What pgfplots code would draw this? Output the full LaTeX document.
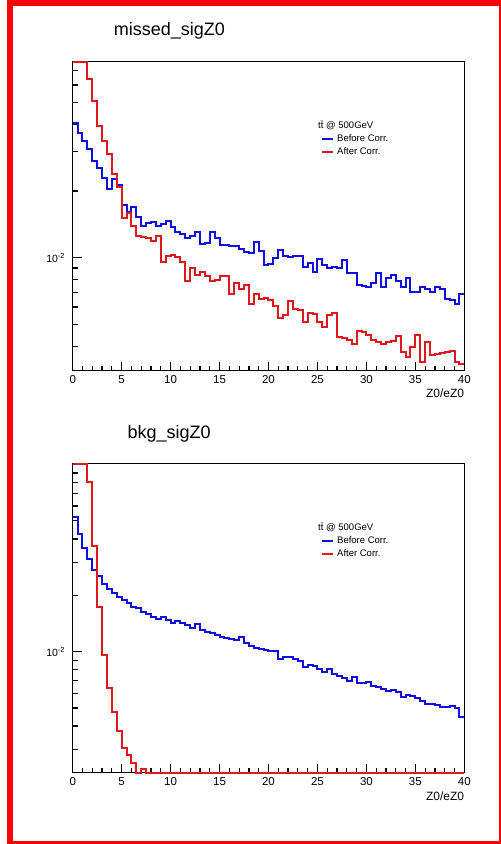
\documentclass[border=0pt]{standalone}
\usepackage{fontspec}
\setmainfont{Liberation Sans}
\usepackage{pgfplots}
\usepackage{pgfplotstable}
\pgfplotsset{compat=1.18}

\definecolor{rootblue}{RGB}{15,15,225}
\definecolor{rootred}{RGB}{222,25,30}

% top panel: missed_sigZ0 (bin left edge, content)
\pgfplotstableread{
x before after
0.0 0.0405 0.0764
0.5 0.0365 0.0764
1.0 0.0337 0.0764
1.5 0.0310 0.0638
2.0 0.0274 0.0506
2.5 0.0254 0.0393
3.0 0.0229 0.0335
3.5 0.0204 0.0294
4.0 0.0227 0.0239
4.5 0.0213 0.0209
5.0 0.0173 0.01514
5.5 0.0160 0.01595
6.0 0.0170 0.01394
6.5 0.0153 0.01256
7.0 0.0139 0.01237
7.5 0.0144 0.01224
8.0 0.0145 0.01193
8.5 0.0139 0.01247
9.0 0.0142 0.00956
9.5 0.0146 0.01021
10.0 0.0137 0.01026
10.5 0.0130 0.01010
11.0 0.0128 0.00954
11.5 0.0123 0.00782
12.0 0.0125 0.00899
12.5 0.0130 0.00838
13.0 0.0115 0.00865
13.5 0.0116 0.00824
14.0 0.0131 0.00785
14.5 0.0123 0.00796
15.0 0.0114 0.00830
15.5 0.0114 0.00826
16.0 0.0113 0.00689
16.5 0.0113 0.00772
17.0 0.0110 0.00721
17.5 0.0106 0.00756
18.0 0.0105 0.00621
18.5 0.0118 0.00690
19.0 0.0107 0.00654
19.5 0.00927 0.00661
20.0 0.00936 0.00645
20.5 0.00993 0.00606
21.0 0.01083 0.00533
21.5 0.01021 0.00552
22.0 0.01010 0.00638
22.5 0.01014 0.00585
23.0 0.01017 0.00581
23.5 0.00911 0.00515
24.0 0.00943 0.00562
24.5 0.00865 0.00557
25.0 0.00983 0.00515
25.5 0.00927 0.00486
26.0 0.00895 0.00552
26.5 0.00911 0.00562
27.0 0.00895 0.00441
27.5 0.00976 0.00433
28.0 0.00856 0.00426
28.5 0.00850 0.00411
29.0 0.00753 0.00469
29.5 0.00746 0.00464
30.0 0.00735 0.00449
30.5 0.00772 0.00426
31.0 0.00850 0.00418
31.5 0.00735 0.00411
32.0 0.00807 0.00418
32.5 0.00835 0.00423
33.0 0.00788 0.00444
33.5 0.00740 0.00377
34.0 0.00807 0.00358
34.5 0.00703 0.00397
35.0 0.00703 0.00449
35.5 0.00735 0.00340
36.0 0.00720 0.00418
36.5 0.00698 0.00365
37.0 0.00740 0.00368
37.5 0.00727 0.00373
38.0 0.00649 0.00377
38.5 0.00645 0.00381
39.0 0.00618 0.00340
39.5 0.00684 0.00334
40.0 0.00684 0.00334
}\missed

% bottom panel: bkg_sigZ0
\pgfplotstableread{
x before after
0.0 0.0526 0.101
0.5 0.0425 0.101
1.0 0.0356 0.101
1.5 0.0312 0.0806
2.0 0.0273 0.0369
2.5 0.0253 0.0174
3.0 0.0230 0.00958
3.5 0.0215 0.00636
4.0 0.0205 0.00475
4.5 0.0196 0.003745
5.0 0.01886 0.00305
5.5 0.01824 0.002795
6.0 0.01736 0.00255
6.5 0.01702 0.002254
7.0 0.01632 0.00236
7.5 0.01587 0.002254
8.0 0.01535 0.002254
8.5 0.01487 0.002254
9.0 0.01524 0.002254
9.5 0.01474 0.002254
10.0 0.01415 0.002254
10.5 0.01461 0.002254
11.0 0.01426 0.002254
11.5 0.01386 0.002254
12.0 0.01331 0.002254
12.5 0.01403 0.002254
13.0 0.01303 0.002254
13.5 0.01276 0.002254
14.0 0.01251 0.002254
14.5 0.01225 0.002254
15.0 0.01200 0.002254
15.5 0.01177 0.002254
16.0 0.01174 0.002254
16.5 0.01152 0.002254
17.0 0.01191 0.002254
17.5 0.01115 0.002254
18.0 0.01070 0.002254
18.5 0.01040 0.002254
19.0 0.01031 0.002254
19.5 0.01019 0.002254
20.0 0.01010 0.002254
20.5 0.01010 0.002254
21.0 0.00909 0.002254
21.5 0.00938 0.002254
22.0 0.00931 0.002254
22.5 0.00909 0.002254
23.0 0.00893 0.002254
23.5 0.00823 0.002254
24.0 0.00847 0.002254
24.5 0.00837 0.002254
25.0 0.00803 0.002254
25.5 0.00780 0.002254
26.0 0.00803 0.002254
26.5 0.00764 0.002254
27.0 0.00740 0.002254
27.5 0.00719 0.002254
28.0 0.00698 0.002254
28.5 0.00733 0.002254
29.0 0.00681 0.002254
29.5 0.00676 0.002254
30.0 0.00690 0.002254
30.5 0.00654 0.002254
31.0 0.00644 0.002254
31.5 0.00628 0.002254
32.0 0.00615 0.002254
32.5 0.00622 0.002254
33.0 0.00610 0.002254
33.5 0.00569 0.002254
34.0 0.00585 0.002254
34.5 0.00578 0.002254
35.0 0.00562 0.002254
35.5 0.00546 0.002254
36.0 0.00528 0.002254
36.5 0.00522 0.002254
37.0 0.00518 0.002254
37.5 0.00507 0.002254
38.0 0.00503 0.002254
38.5 0.00511 0.002254
39.0 0.00497 0.002254
39.5 0.00448 0.002254
40.0 0.00448 0.002254
}\bkg

\pgfplotsset{
  legend image code/.code={\draw[#1, line width=2pt] (0pt,0pt) -- (11pt,0pt);},
  /pgf/number format/assume math mode=true,
}

\begin{document}
\begin{tikzpicture}
\useasboundingbox (0pt,0pt) rectangle (501pt,844pt);
\clip (0pt,0pt) rectangle (501pt,844pt);

% ---- top panel
\begin{axis}[
  scale only axis,
  width=391.6pt, height=309pt,
  ymode=log,
  xmin=0, xmax=40,
  ymin=0.0031, ymax=0.0764,
  clip=false,
  axis line style={line width=1.5pt},
  xtick={0,5,...,40},
  minor x tick num=4,
  ytick={0.01}, yticklabels={10\textsuperscript{-2}},
  minor ytick={0.004,0.005,0.006,0.007,0.008,0.009,0.02,0.03,0.04,0.05,0.06,0.07},
  xtick pos=left, ytick pos=left,
  tick align=inside,
  major tick length=9pt, minor tick length=5pt,
  tick style={black, line width=1.2pt},
  xticklabel style={font=\fontsize{11.5}{12}\selectfont, inner sep=0pt, anchor=north, yshift=-5pt},
  yticklabel style={font=\fontsize{10.5}{11}\selectfont, inner sep=0pt, anchor=east, xshift=-7.5pt},
  xlabel={Z0/eZ0},
  xlabel style={at={(rel axis cs:1,0)}, anchor=north east, inner sep=0pt, yshift=-17.8pt, font=\fontsize{12}{13}\selectfont},
  title={missed\_sigZ0},
  title style={at={(rel axis cs:0.247,1.065)}, anchor=base, inner sep=0pt, font=\fontsize{18}{20}\selectfont},
  legend style={at={(rel axis cs:0.634,0.767)}, anchor=north west, draw=none, fill=none,
    inner sep=0pt, font=\fontsize{9.5}{10}\selectfont, row sep=4pt, column sep=3pt,
    nodes={inner sep=0pt, text height=7.2pt, text depth=2.2pt}},
  legend cell align=left,
  at={(72.7pt,473.3pt)}, anchor=south west]
\addplot[const plot, rootblue, line width=2pt] table[x=x, y=before] {\missed};
\addlegendentry{Before Corr.}
\addplot[const plot, rootred, line width=2pt] table[x=x, y=after] {\missed};
\addlegendentry{After Corr.}
\node[anchor=base west, inner sep=0pt, font=\fontsize{9.5}{10}\selectfont] at (rel axis cs:0.6265,0.783) {t\={t} @ 500GeV};
\end{axis}

% ---- bottom panel
\begin{axis}[
  scale only axis,
  width=391.6pt, height=309pt,
  ymode=log,
  xmin=0, xmax=40,
  ymin=0.002254, ymax=0.101,
  clip=false,
  axis line style={line width=1.5pt},
  xtick={0,5,...,40},
  minor x tick num=4,
  ytick={0.01}, yticklabels={10\textsuperscript{-2}},
  minor ytick={0.003,0.004,0.005,0.006,0.007,0.008,0.009,0.02,0.03,0.04,0.05,0.06,0.07,0.08,0.09},
  xtick pos=left, ytick pos=left,
  tick align=inside,
  major tick length=9pt, minor tick length=5pt,
  tick style={black, line width=1.2pt},
  xticklabel style={font=\fontsize{11.5}{12}\selectfont, inner sep=0pt, anchor=north, yshift=-5pt},
  yticklabel style={font=\fontsize{10.5}{11}\selectfont, inner sep=0pt, anchor=east, xshift=-7.5pt},
  xlabel={Z0/eZ0},
  xlabel style={at={(rel axis cs:1,0)}, anchor=north east, inner sep=0pt, yshift=-18.5pt, font=\fontsize{12}{13}\selectfont},
  title={bkg\_sigZ0},
  title style={at={(rel axis cs:0.246,1.0625)}, anchor=base, inner sep=0pt, font=\fontsize{18}{20}\selectfont},
  legend style={at={(rel axis cs:0.634,0.767)}, anchor=north west, draw=none, fill=none,
    inner sep=0pt, font=\fontsize{9.5}{10}\selectfont, row sep=4pt, column sep=3pt,
    nodes={inner sep=0pt, text height=7.2pt, text depth=2.2pt}},
  legend cell align=left,
  at={(72.7pt,71.3pt)}, anchor=south west]
\addplot[const plot, rootblue, line width=2pt] table[x=x, y=before] {\bkg};
\addlegendentry{Before Corr.}
\addplot[const plot, rootred, line width=2pt] table[x=x, y=after] {\bkg};
\addlegendentry{After Corr.}
\node[anchor=base west, inner sep=0pt, font=\fontsize{9.5}{10}\selectfont] at (rel axis cs:0.6265,0.783) {t\={t} @ 500GeV};
\end{axis}

% red frame of the screenshot
\draw[red, line width=6pt] (9.8pt,0pt) rectangle (502pt,840.7pt);
\end{tikzpicture}
\end{document}
